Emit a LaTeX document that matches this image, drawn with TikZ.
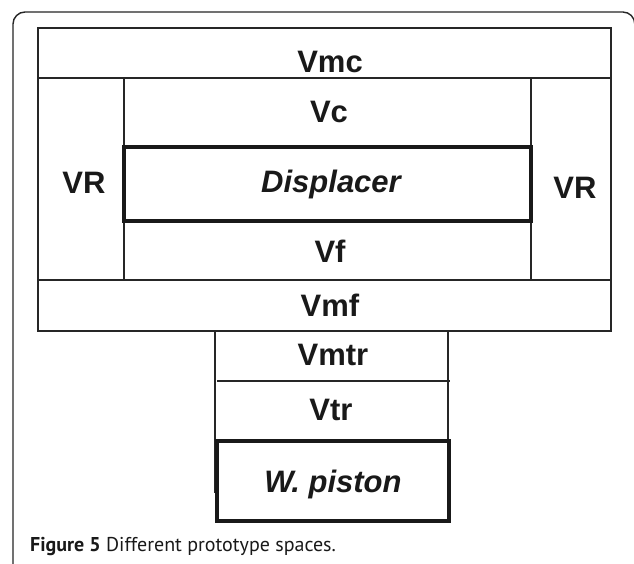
\documentclass[tikz,border=0pt]{standalone}
\usepackage{fontspec}
\setmainfont{Liberation Sans}
\newfontfamily\capfont{PT Sans}
\begin{document}
\begin{tikzpicture}[x=1pt,y=-1pt,
  thin line/.style={draw=black!85,line width=1.1pt},
  thick box/.style={draw=black!90,line width=3.2pt},
  frame line/.style={draw=black!85,line width=1.4pt},
  vol/.style={font=\fontsize{31}{31}\selectfont\bfseries,text=black!90,inner sep=0pt},
  part/.style={font=\fontsize{31}{31}\selectfont\bfseries\itshape,text=black!90,inner sep=0pt}]
\useasboundingbox (0,0) rectangle (634,564);
\fill[white] (0,0) rectangle (634,564);

% figure frame (left and top edges, rounded corners)
\draw[frame line,rounded corners=12pt] (13,564) -- (13,12) -- (634.8,12) -- (634.8,30);

% engine body: expansion spaces around the displacer
\draw[thin line] (38,28) rectangle (611,331);
\draw[thin line] (38,78) -- (611,78);
\draw[thin line] (38,280) -- (611,280);
\draw[thin line] (124,78) -- (124,280);
\draw[thin line] (531,78) -- (531,280);
\draw[thick box] (124,147) rectangle (531,221);

% transfer column and working piston
\draw[thin line] (215,331) -- (215,493);
\draw[thin line] (448,331) -- (448,441);
\draw[thin line] (217,381) -- (450,381);
\draw[thick box] (217,441) rectangle (449,521);

% volume labels
\node[vol] (vmc) at (330,62) {Vmc};
\node[vol] (vc) at (329,112) {Vc};
\node[part] (disp) at (331,184) {Displacer};
\node[vol] (vrl) at (84,183) {VR};
\node[vol] (vrr) at (575,188) {VR};
\node[vol] (vf) at (330,251) {Vf};
\node[vol] (vmf) at (330,305) {Vmf};
\node[vol] (vmtr) at (333,355) {Vmtr};
\node[vol] (vtr) at (331,410) {Vtr};
\node[part] (wp) at (333,484) {W. piston};

% caption
\node[anchor=base west,inner sep=0pt,font=\capfont\fontsize{20}{20}\selectfont,text=black!90]
  (cap) at (30,551) {\textbf{Figure 5} Different prototype spaces.};
\end{tikzpicture}
\end{document}
